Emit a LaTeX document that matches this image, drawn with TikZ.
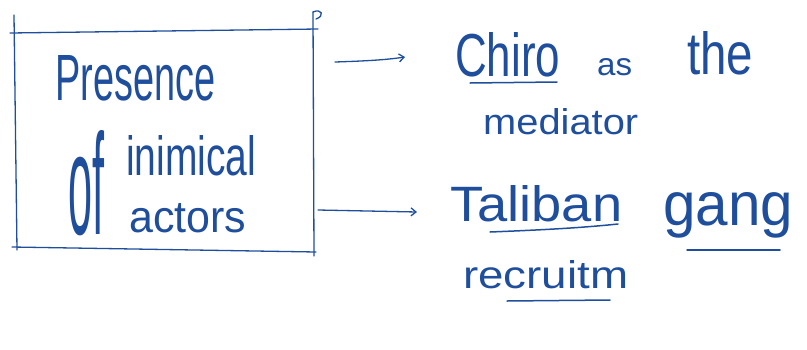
\documentclass[tikz,border=0pt]{standalone}
\usepackage{fontspec}
\usepackage{graphicx}
\setmainfont{Liberation Sans}
\usetikzlibrary{arrows.meta}
\definecolor{ink}{HTML}{1F4E9C}
\newcommand{\hwtext}[3]{\resizebox{#1}{#2}{#3}}
\begin{document}
\begin{tikzpicture}[x=1pt,y=-1pt,
  ink line/.style={draw=ink,line width=1.3pt,line cap=round},
  arr/.style={ink line,-{Straight Barb[length=5pt,width=8pt]}},
  hand/.style={text=ink,inner sep=0pt,anchor=base west,font=\fontsize{30}{36}\selectfont},
  uline/.style={ink line,line width=1.5pt}]
\useasboundingbox (0,0) rectangle (807,349);
% box drawn as four slightly overshooting strokes
\draw[ink line] (10,33) -- (318,29);
\draw[ink line] (14,15) -- (17,250);
\draw[ink line] (313,12) -- (314,256);
\draw[ink line] (12,247) -- (316,252);
\draw[ink line] (313,12) .. controls (322,8) and (325,16) .. (316,19);
\node (box) [inner sep=0pt,minimum width=298pt,minimum height=218pt] at (164,140) {};
% box text
\node[hand] (t1) at (55,100) {\hwtext{160pt}{45pt}{Presence}};
\node[hand] (t2) at (68,234) {\hwtext{36pt}{104pt}{of}};
\node[hand] (t3) at (126,175) {\hwtext{130pt}{40pt}{inimical}};
\node[hand] (t4) at (129,232) {\hwtext{117pt}{29pt}{actors}};
% right texts
\node[hand] (r1a) at (455,76) {\hwtext{105pt}{44pt}{Chiro}};
\node[hand] (r1b) at (597,75) {\hwtext{35pt}{17pt}{as}};
\node[hand] (r1c) at (687,74) {\hwtext{66pt}{43pt}{the}};
\node[hand] (r2) at (483,134) {\hwtext{155pt}{26pt}{mediator}};
\node[hand] (r3) at (450,221) {\hwtext{172pt}{36pt}{Taliban}};
\node[hand] (r4) at (663,225) {\hwtext{130pt}{33pt}{gang}};
\node[hand] (r5) at (463,288) {\hwtext{165pt}{28pt}{recruitm}};
% underlines
\draw[uline] (470,83) -- (557,82);
\draw[uline] (490,232) .. controls (540,230) and (580,228) .. (618,224);
\draw[uline] (687,250) -- (780,250);
\draw[uline] (507,301) -- (610,300);
% arrows
\coordinate (a1s) at (335,62);
\coordinate (a2s) at (318,210);
\draw[arr] (a1s) .. controls (365,61) and (385,60) .. (405,57);
\draw[arr] (a2s) -- (417,212);
\end{tikzpicture}
\end{document}
